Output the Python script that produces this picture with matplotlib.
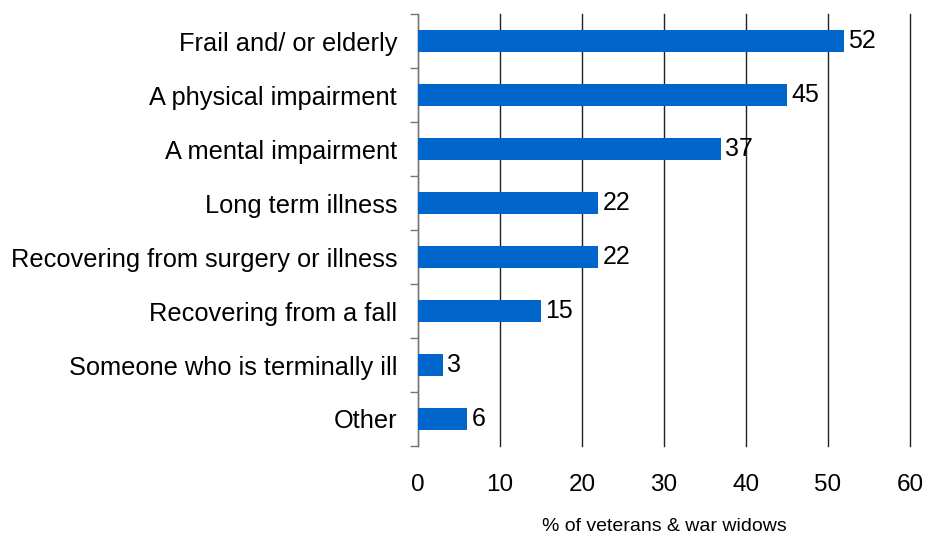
import numpy as np
import matplotlib.pyplot as plt

categories = ["Frail and/ or elderly", "A physical impairment", "A mental impairment",
              "Long term illness", "Recovering from surgery or illness",
              "Recovering from a fall", "Someone who is terminally ill", "Other"]
values = [52, 45, 37, 22, 22, 15, 3, 6]
xticks = [0, 10, 20, 30, 40, 50, 60]

plt.rcParams['font.family'] = ['Liberation Sans', 'DejaVu Sans']

fig = plt.figure(figsize=(9.26, 5.35), dpi=100)
ax = fig.add_axes([418 / 926, 1 - 446 / 535, (910 - 418) / 926, (446 - 14) / 535])

y = np.arange(len(categories))
ax.barh(y, values, height=0.4, color='#0066CC', zorder=3)
for yi, v in zip(y, values):
    ax.text(v + 0.5, yi, str(v), va='center', ha='left', fontsize=18, zorder=4)

ax.set_xlim(0, 60)
ax.set_ylim(len(categories) - 0.5, -0.5)
ax.set_xticks(xticks)
ax.set_yticks(y)
ax.set_yticklabels(categories, fontsize=18.3)
ax.tick_params(axis='y', length=0, pad=15)
ax.set_yticks(np.arange(-0.5, len(categories)), minor=True)
ax.tick_params(axis='y', which='minor', length=6, color='#777777', width=1)
ax.tick_params(axis='x', length=0, labelsize=17.5, pad=20)
ax.xaxis.grid(True, color='#222222', linewidth=1, zorder=0)
for gl in ax.get_xgridlines():
    gl.set_clip_on(False)
for s in ['top', 'right', 'bottom']:
    ax.spines[s].set_visible(False)
ax.spines['left'].set_color('#777777')
ax.set_xlabel("% of veterans & war widows", fontsize=14, labelpad=16)

fig.savefig('out.png', dpi=100)
